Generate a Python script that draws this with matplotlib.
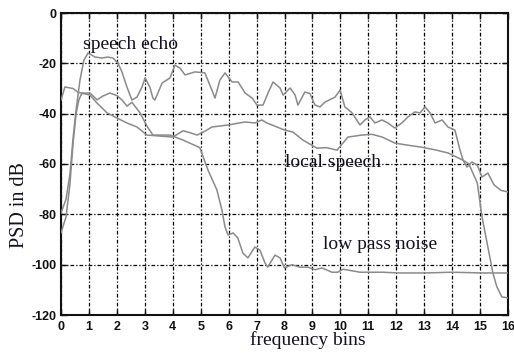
import matplotlib
matplotlib.use("Agg")
import matplotlib.pyplot as plt
import numpy as np

# Power spectral densities (dB) over frequency bins
echo_x = [0.00, 0.18, 0.32, 0.43, 0.54, 0.68, 0.82, 0.97, 1.22, 1.47, 1.68, 1.86,
          2.04, 2.18, 2.36, 2.54, 2.72, 2.90, 3.01, 3.18, 3.29, 3.36, 3.62, 3.90,
          4.08, 4.26, 4.44, 4.80, 5.15, 5.40, 5.51, 5.69, 5.87, 6.12, 6.34, 6.59,
          6.84, 7.02, 7.23, 7.41, 7.59, 7.84, 7.95, 8.20, 8.38, 8.48, 8.73, 8.91,
          9.09, 9.27, 9.45, 9.81, 9.99, 10.16, 10.42, 10.70, 10.88, 11.06, 11.24,
          11.49, 11.70, 11.95, 12.20, 12.42, 12.67, 12.85, 13.03, 13.21, 13.39,
          13.64, 13.85, 14.10, 14.28, 14.39, 14.53, 14.71, 14.90, 15.07, 15.28,
          15.50, 15.75, 16.00]
echo_db = [-79.5, -74.0, -64.0, -50.0, -38.5, -26.6, -18.7, -15.9, -17.5, -17.9, -17.5, -17.9,
           -19.9, -23.4, -29.4, -34.6, -33.4, -29.4, -25.8, -29.4, -33.8, -34.6, -27.8, -25.8,
           -20.7, -21.9, -24.6, -23.4, -23.8, -30.6, -33.8, -26.6, -23.8, -27.4, -27.4, -31.8,
           -33.8, -36.6, -36.6, -31.8, -27.4, -29.8, -32.6, -29.8, -32.6, -36.6, -31.4, -32.0,
           -36.6, -37.3, -35.4, -33.4, -30.6, -37.3, -39.7, -44.5, -42.5, -41.3, -43.7,
           -42.5, -43.7, -45.7, -43.7, -41.3, -39.3, -39.7, -37.3, -39.7, -43.7,
           -42.5, -45.3, -46.5, -54.4, -58.4, -61.2, -59.2, -60.4, -65.2, -63.6,
           -68.3, -70.5, -71.1]

local_x = [0.00, 0.14, 0.43, 0.61, 0.79, 1.04, 1.29, 1.65, 2.00, 2.36, 2.72, 2.94,
           3.08, 3.54, 4.00, 4.37, 4.60, 4.87, 5.15, 5.40, 5.98, 6.59, 6.94, 7.19,
           7.37, 8.00, 8.30, 8.66, 9.16, 9.50, 9.88, 10.27, 10.77, 11.13, 11.50,
           11.95, 12.40, 12.90, 13.40, 13.85, 14.39, 14.60, 14.90, 15.07, 15.28,
           15.46, 15.60, 15.78, 16.00]
local_db = [-34.6, -29.4, -30.0, -31.5, -32.0, -32.6, -35.8, -39.7, -41.7, -43.7, -45.3, -47.3,
            -48.5, -48.9, -49.3, -46.8, -47.5, -48.5, -47.0, -45.3, -44.5, -43.3, -43.7, -42.5,
            -43.7, -46.5, -47.3, -50.5, -53.7, -53.5, -54.5, -49.3, -48.5, -48.2, -49.3,
            -51.7, -52.5, -53.3, -54.4, -55.6, -58.5, -60.0, -67.5, -81.0, -93.0,
            -103.3, -108.8, -112.8, -113.2]

noise_x = [0.00, 0.18, 0.32, 0.43, 0.54, 0.64, 0.75, 1.04, 1.29, 1.50, 1.75, 2.00,
           2.18, 2.36, 2.54, 2.83, 3.08, 3.29, 3.90, 4.37, 4.97, 5.26, 5.58, 5.76,
           5.87, 5.98, 6.16, 6.33, 6.51, 6.69, 6.94, 7.12, 7.30, 7.40, 7.66, 7.84,
           8.00, 8.27, 8.55, 8.84, 9.10, 9.34, 9.70, 9.90, 10.10, 10.70, 11.50,
           12.10, 13.00, 14.00, 15.10, 16.00]
noise_db = [-87.4, -81.0, -68.0, -52.0, -40.0, -34.5, -31.8, -31.8, -34.5, -33.0, -31.8, -32.8,
            -34.5, -37.0, -35.5, -39.7, -45.0, -48.5, -48.5, -50.5, -53.5, -62.4, -70.3, -78.3,
            -85.0, -88.2, -87.4, -89.4, -95.4, -97.3, -93.0, -94.2, -99.3, -101.0, -96.2, -97.3,
            -101.3, -100.0, -101.0, -101.0, -102.0, -101.3, -103.0, -103.0, -101.8, -103.0, -103.0,
            -103.3, -103.3, -103.0, -103.3, -103.3]

x_ticks = list(range(0, 17))
x_tick_labels = [str(v) for v in x_ticks]
y_ticks = [0, -20, -40, -60, -80, -100, -120]
y_tick_labels = ["0", "-20", "-40", "-60", "-80", "-100", "-120"]

curve_labels = ["speech echo", "local speech", "low pass noise"]
label_pos = [(0.79, -14.3), (8.02, -61.0), (9.38, -93.6)]

fig = plt.figure(figsize=(5.14, 3.53), dpi=100)
ax = fig.add_axes([61 / 514, 1 - 315 / 353, 447 / 514, 302 / 353])

line_color = "#8a8a8a"
for xs, ys in [(echo_x, echo_db), (local_x, local_db), (noise_x, noise_db)]:
    ax.plot(xs, ys, color=line_color, lw=1.1, zorder=3)

ax.set_xlim(0, 16)
ax.set_ylim(-120, 0)
ax.set_xticks(x_ticks)
ax.set_xticklabels(x_tick_labels)
ax.set_yticks(y_ticks)
ax.set_yticklabels(y_tick_labels)

grid_style = (0, (3.0, 1.6, 1.0, 1.6))
ax.grid(True, color="black", lw=0.9, linestyle=grid_style, zorder=1)

for s in ax.spines.values():
    s.set_linewidth(1.5)
    s.set_color("#111111")

ax.tick_params(direction="in", length=4, width=1.0, top=True, right=True,
               labelsize=9, colors="#111111")
ax.tick_params(axis="x", pad=4)
ax.tick_params(axis="y", pad=3)
for lab in ax.get_xticklabels() + ax.get_yticklabels():
    lab.set_fontfamily("Liberation Sans")
    lab.set_fontweight("bold")

serif = "Liberation Serif"
ax.set_xlabel("frequency bins", fontfamily=serif, fontsize=14, color="#111122")
ax.xaxis.set_label_coords((308 - 61) / 447, -0.055)
ax.set_ylabel("PSD in dB", fontfamily=serif, fontsize=14.5, color="#111122", va="center")
ax.yaxis.set_label_coords((20 - 61) / 447, (315 - 205) / 302)

for text, (tx, ty) in zip(curve_labels, label_pos):
    ax.text(tx, ty, text, fontfamily=serif, fontsize=14, color="#111122",
            ha="left", va="baseline", zorder=4)

fig.savefig("out.png", dpi=100)
